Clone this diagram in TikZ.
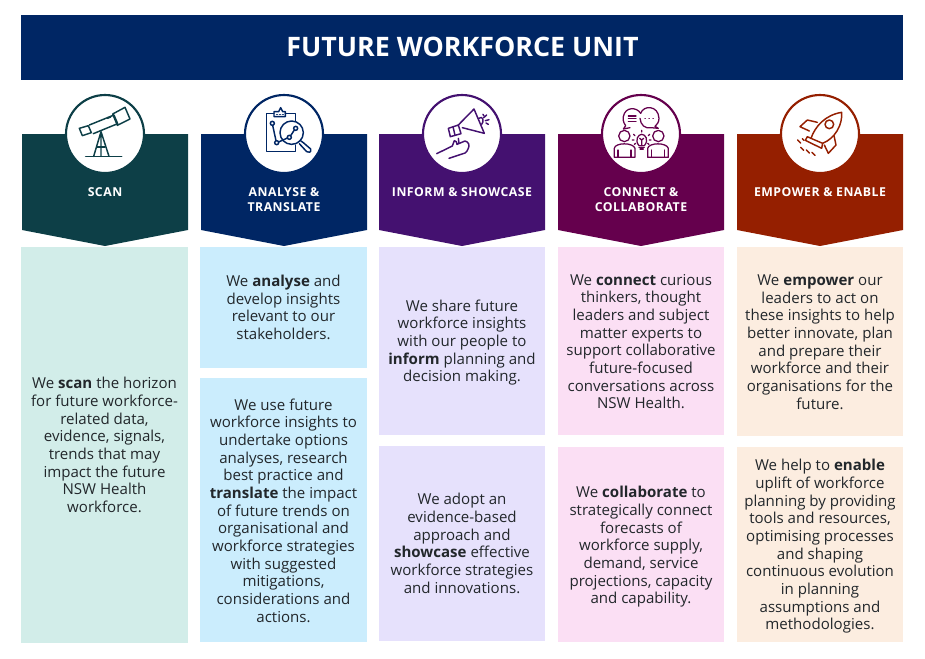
\documentclass[tikz,border=0pt]{standalone}
\usepackage{fontspec}
\setmainfont{Open Sans}
\definecolor{navy}{HTML}{002664}
\definecolor{cteal}{HTML}{0D3F47}
\definecolor{cpurple}{HTML}{441170}
\definecolor{cmag}{HTML}{65004D}
\definecolor{cred}{HTML}{951F00}
\definecolor{lteal}{HTML}{D2EDE9}
\definecolor{lblue}{HTML}{CBEDFD}
\definecolor{lpurple}{HTML}{E6E1FC}
\definecolor{lpink}{HTML}{FBDFF4}
\definecolor{lpeach}{HTML}{FCEDE0}
\definecolor{bodytxt}{HTML}{22272B}
\newcommand{\pent}[3]{\fill[#3] (#1,134) -- (#2,134) -- (#2,230) -- ({(#1+#2)/2},246) -- (#1,230) -- cycle;}
\tikzset{
  x=0.75pt,y=-0.75pt,
  bodybox/.style={inner sep=0pt,align=center,text=bodytxt,font=\fontsize{11.3pt}{13.25pt}\selectfont},
  collabel/.style={inner sep=0pt,align=center,text=white,font=\fontsize{9.2pt}{11.1pt}\selectfont\bfseries\addfontfeatures{LetterSpace=4}},
  ring/.style={draw=#1,fill=white,line width=1.6pt},
  ico/.style={draw=#1,line width=1.1pt,line join=round,line cap=round},
  zoomA/.style={shift={(20,85)},x=0.25pt,y=-0.25pt},
  zoomB/.style={shift={(375,85)},x=0.25pt,y=-0.25pt},
  zoomC/.style={shift={(730,85)},x=0.25pt,y=-0.25pt},
}
\begin{document}
\begin{tikzpicture}
\useasboundingbox (0,0) rectangle (925,658);
\fill[navy] (21,15) rectangle (903,80);
\node[text=white,inner sep=0pt,font=\fontsize{20.1pt}{22pt}\selectfont\bfseries] (title) at (462.5,47) {FUTURE WORKFORCE UNIT};

\pent{22}{188}{cteal}
\pent{201}{367}{navy}
\pent{379}{545}{cpurple}
\pent{558}{724}{cmag}
\pent{737}{903}{cred}

\fill[lteal] (21,247) rectangle (188,643);
\fill[lblue] (200,247) rectangle (367,368);
\fill[lblue] (200,378) rectangle (367,642);
\fill[lpurple] (379,247) rectangle (545,435);
\fill[lpurple] (379,446) rectangle (545,641);
\fill[lpink] (558,247) rectangle (724,435);
\fill[lpink] (558,447) rectangle (724,642);
\fill[lpeach] (737,247) rectangle (903,436);
\fill[lpeach] (737,447) rectangle (903,642);

\node[collabel] (l1) at (105,192) {SCAN};
\node[collabel] (l2) at (284,200) {ANALYSE \&\\TRANSLATE};
\node[collabel] (l3) at (462,192) {INFORM \& SHOWCASE};
\node[collabel] (l4) at (641,200) {CONNECT \&\\COLLABORATE};
\node[collabel] (l5) at (820,192) {EMPOWER \& ENABLE};

\node[bodybox] (t1) at (104.5,445) {We \textbf{scan} the horizon\\for future workforce-\\related data,\\evidence, signals,\\trends that may\\impact the future\\NSW Health\\workforce.};
\node[bodybox] (t2) at (283.5,307.5) {We \textbf{analyse} and\\develop insights\\relevant to our\\stakeholders.};
\node[bodybox] (t3) at (283.5,510.5) {We use future\\workforce insights to\\undertake options\\analyses, research\\best practice and\\\textbf{translate} the impact\\of future trends on\\organisational and\\workforce strategies\\with suggested\\mitigations,\\considerations and\\actions.};
\node[bodybox] (t4) at (462,342.5) {We share future\\workforce insights\\with our people to\\\textbf{inform} planning and\\decision making.};
\node[bodybox] (t5) at (462,543.5) {We adopt an\\evidence-based\\approach and\\\textbf{showcase} effective\\workforce strategies\\and innovations.};
\node[bodybox] (t6) at (641,341.5) {We \textbf{connect} curious\\thinkers, thought\\leaders and subject\\matter experts to\\support collaborative\\future-focused\\conversations across\\NSW Health.};
\node[bodybox] (t7) at (641,547) {We \textbf{collaborate} to\\strategically connect\\forecasts of\\workforce supply,\\demand, service\\projections, capacity\\and capability.};
\node[bodybox] (t8) at (820,342) {We \textbf{empower} our\\leaders to act on\\these insights to help\\better innovate, plan\\and prepare their\\workforce and their\\organisations for the\\future.};
\node[bodybox] (t9) at (820,546.5) {We help to \textbf{enable}\\uplift of workforce\\planning by providing\\tools and resources,\\optimising processes\\and shaping\\continuous evolution\\in planning\\assumptions and\\methodologies.};

% circles
\draw[ring=cteal] (105,134) circle (39);
\draw[ring=navy] (284,134) circle (39);
\draw[ring=cpurple] (462,134) circle (39);
\draw[ring=cmag] (641,134) circle (39);
\draw[ring=cred] (820,134) circle (39);

% telescope
\begin{scope}[zoomA,ico=cteal]
\draw (178,130) -- (205,122) -- (214,143) -- (187,152) -- cycle;
\draw (208,120) -- (282,90) -- (293,116) -- (220,146);
\draw (278,87) -- (315,67) -- (330,102) -- (292,121) -- cycle;
\draw (262,100) -- (272,96);
\draw (243,140) -- (221,214) (243,140) -- (243,214) (243,140) -- (267,214);
\draw (232,186) -- (255,186);
\draw (197,215) -- (305,215);
\end{scope}
% analyse
\begin{scope}[zoomA,ico=navy]
\draw (762,85) -- (740,85) -- (740,200) -- (826,200) -- (826,180);
\draw (796,85) -- (826,85) -- (826,108);
\draw (762,95) -- (762,80) -- (776,80) -- (782,68) -- (788,80) -- (796,80) -- (796,95) -- cycle;
\draw (770,88) -- (772,88) (779,88) -- (781,88) (788,88) -- (790,88);
\draw (815,143) circle (35);
\draw (843,168) -- (850,173) -- (872,192) .. controls (875,202) and (865,205) .. (860,200) -- (838,176);
\draw (757,115) circle (6) (770,173) circle (6) (808,157) circle (6) (827,130) circle (6);
\draw (758,121) -- (768,167) (776,171) -- (802,159) (812,152) -- (823,135);
\end{scope}
% megaphone
\begin{scope}[zoomB,ico=cpurple]
\draw (248,122) -- (297,72) -- (328,145) -- (262,128);
\draw (311,100) .. controls (325,90) and (328,110) .. (320,118);
\draw (220,130) -- (250,120) -- (258,146) -- (226,155) -- cycle;
\draw (234,125) -- (240,151);
\draw (326,98) -- (335,90) (331,107) -- (342,104) (324,88) -- (326,92) (333,114) -- (340,118);
\draw (185,206) -- (232,183) -- (238,167) .. controls (245,165) and (245,175) .. (246,178) -- (270,168) .. controls (280,170) and (285,180) .. (280,190) .. controls (275,205) and (265,207) .. (258,208) -- (222,220);
\draw (250,160) -- (252,175);
\end{scope}
% connect
\begin{scope}[zoomB,ico=cmag,line width=0.95pt]
\draw (797,85) .. controls (785,65) and (750,65) .. (745,95) .. controls (742,110) and (750,118) .. (752,122) -- (745,132) -- (765,128);
\draw (797,85) .. controls (805,60) and (850,60) .. (852,100) .. controls (852,112) and (845,120) .. (840,124) -- (850,130) -- (828,128) .. controls (810,132) and (797,120) .. (795,100);
\draw (760,93) -- (783,93) (760,101) -- (783,101) (760,109) -- (783,109);
\draw (810,101) -- (811,101) (822,101) -- (823,101) (834,101) -- (835,101);
\draw (748,153) circle (17) (850,153) circle (17);
\draw (718,217) -- (718,190) .. controls (720,172) and (775,172) .. (780,190) -- (780,217) -- cycle;
\draw (729,195) -- (729,217) (768,195) -- (768,217);
\draw (818,217) -- (818,190) .. controls (822,172) and (875,172) .. (880,190) -- (880,217) -- cycle;
\draw (830,195) -- (830,217) (868,195) -- (868,217);
\draw (792,182) .. controls (778,165) and (790,148) .. (800,148) .. controls (812,148) and (822,165) .. (808,182) -- cycle;
\draw (792,187) -- (808,187) (795,192) -- (805,192);
\draw (800,182) -- (800,165) (794,160) -- (800,165) -- (806,160);
\draw (800,136) -- (800,141) (776,148) -- (780,152) (824,148) -- (820,152) (772,165) -- (777,165) (823,165) -- (828,165) (778,178) -- (782,175) (822,178) -- (818,175);
\end{scope}
% rocket
\begin{scope}[zoomC,ico=cred]
\draw (243,160) .. controls (255,125) and (285,90) .. (335,82) .. controls (338,120) and (315,160) .. (278,175);
\draw (298,118) circle (13);
\draw (262,112) -- (232,105) -- (210,125) -- (238,138);
\draw (312,152) -- (318,180) -- (295,205) -- (283,180);
\draw (232,155) -- (243,160) -- (278,175) -- (275,190) -- (226,166) -- cycle;
\draw (203,165) -- (212,174) (217,161) -- (222,166) (212,187) -- (221,196) (229,195) -- (238,204) (246,202) -- (255,211);
\end{scope}
\end{tikzpicture}
\end{document}
